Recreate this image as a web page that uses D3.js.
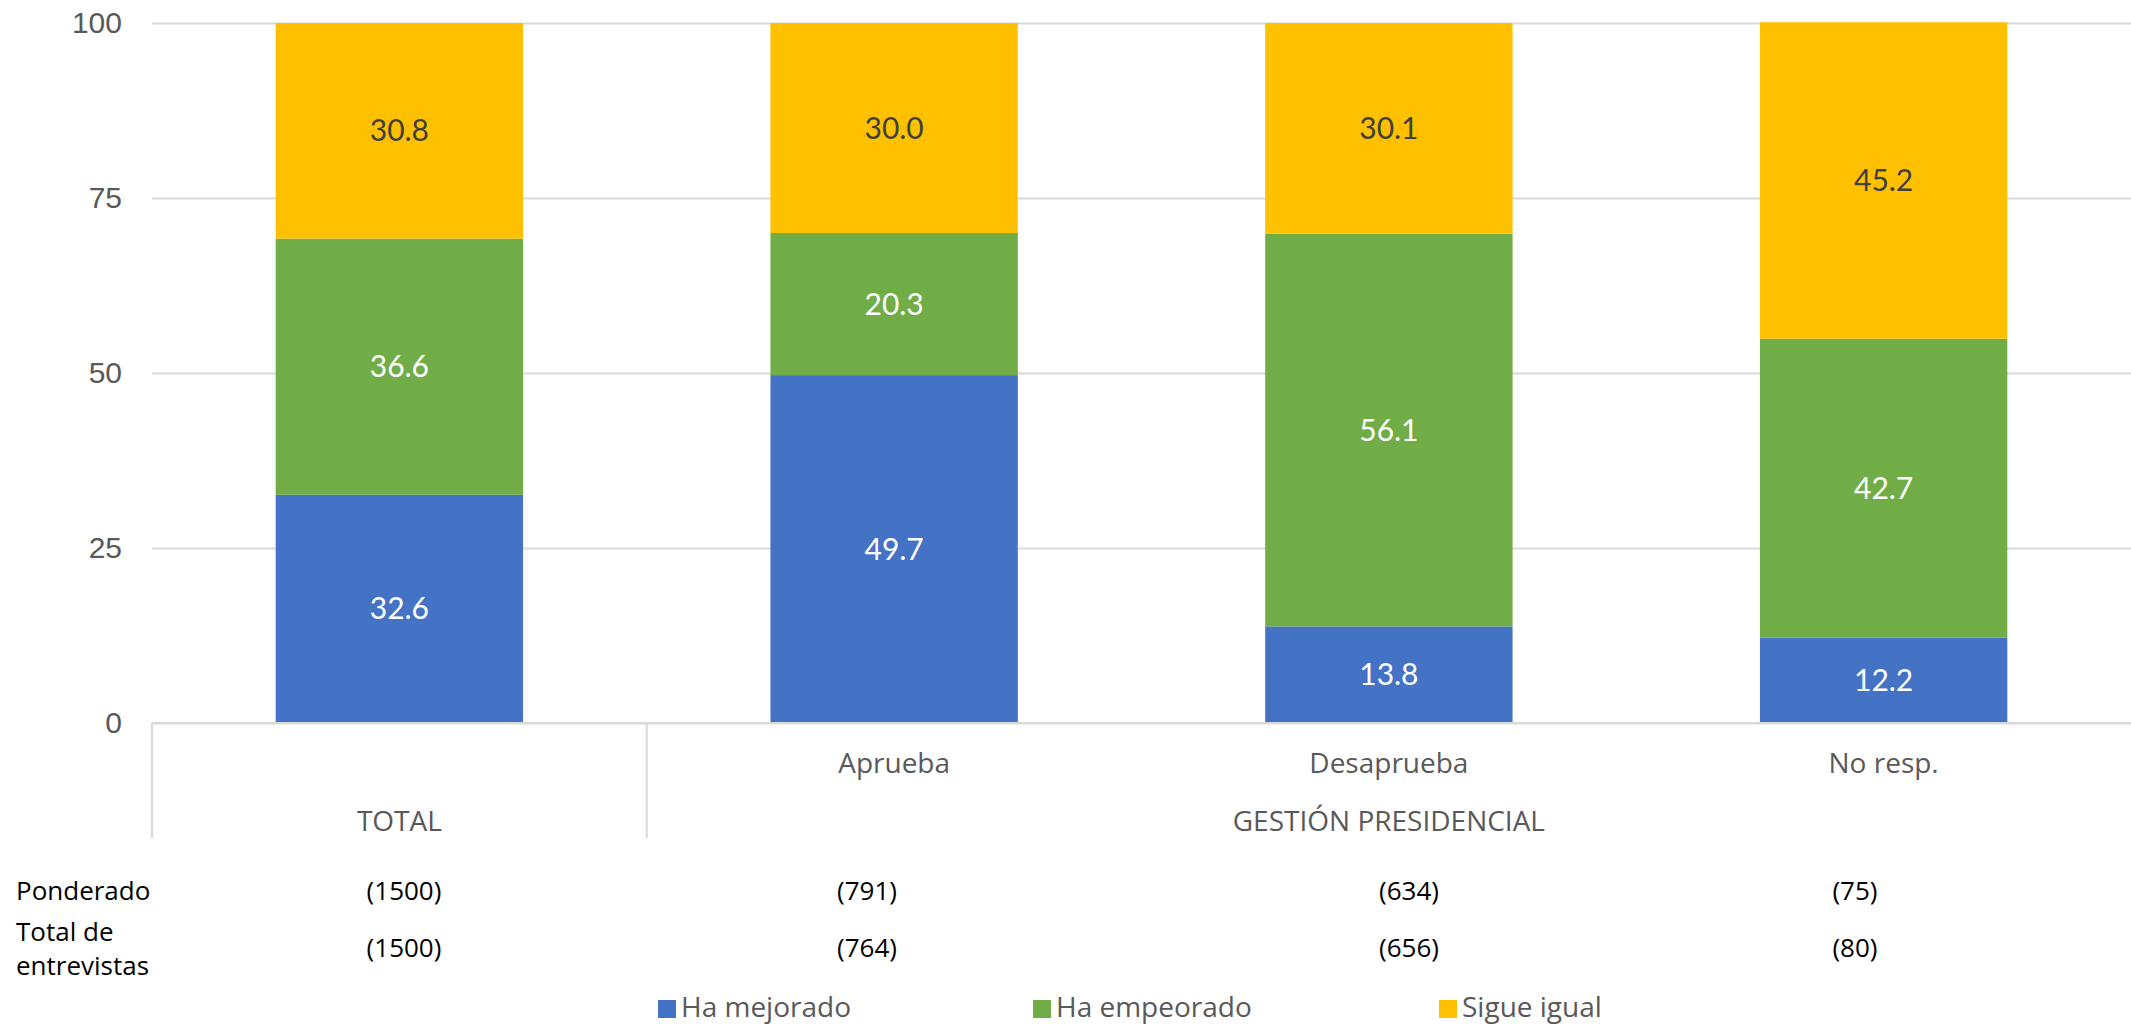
<!DOCTYPE html>
<html>
<head>
<meta charset="utf-8">
<script src="https://cdn.jsdelivr.net/npm/d3@7"></script>
<style>
  body { margin: 0; background: #fff; }
  svg { display: block; font-family: Lato, "Open Sans", sans-serif; }
  .txt { font-family: "Open Sans", Lato, sans-serif; }
</style>
</head>
<body>
<div id="chart"></div>
<script>
const categories = ["TOTAL", "Aprueba", "Desaprueba", "No resp."];
const groups = [
    { name: "TOTAL", items: ["TOTAL"] },
    { name: "GESTIÓN PRESIDENCIAL", items: ["Aprueba", "Desaprueba", "No resp."] }
];
const seriesNames = ["Ha mejorado", "Ha empeorado", "Sigue igual"];
const mejorado = [32.6, 49.7, 13.8, 12.2];
const empeorado = [36.6, 20.3, 56.1, 42.7];
const igual = [30.8, 30.0, 30.1, 45.2];
const ponderado = ["(1500)", "(791)", "(634)", "(75)"];
const entrevistas = ["(1500)", "(764)", "(656)", "(80)"];
const yTicks = [0, 25, 50, 75, 100];

const colors = ["#4472C4", "#70AD47", "#FFC000"];
const labelColors = ["#ffffff", "#ffffff", "#404040"];

const width = 2131, height = 1027;
const margin = { top: 23, right: 0, bottom: 304, left: 152 };
const plotW = width - margin.left - margin.right;
const plotH = height - margin.top - margin.bottom;

const svg = d3.select("#chart").append("svg")
    .attr("width", width)
    .attr("height", height);

const g = svg.append("g")
    .attr("transform", "translate(" + margin.left + "," + margin.top + ")");

const x = d3.scaleBand().domain(categories).range([0, plotW]).paddingInner(0.5).paddingOuter(0.25);
const y = d3.scaleLinear().domain([0, 100]).range([plotH, 0]);

// gridlines + y labels
const yAxis = d3.axisLeft(y).tickValues(yTicks).tickSize(-plotW).tickPadding(30);
const ya = g.append("g").call(yAxis);
ya.select(".domain").remove();
ya.selectAll(".tick line").attr("stroke", "#D9D9D9").attr("stroke-width", 2);
ya.selectAll(".tick text").attr("fill", "#595959").attr("font-size", 30);

// stacked bars
const rows = categories.map((c, i) => ({ cat: c, "Ha mejorado": mejorado[i], "Ha empeorado": empeorado[i], "Sigue igual": igual[i] }));
const stack = d3.stack().keys(seriesNames)(rows);

const layers = g.selectAll(".layer").data(stack).join("g")
    .attr("fill", (d, i) => colors[i]);

layers.selectAll("rect").data(d => d).join("rect")
    .attr("x", d => x(d.data.cat))
    .attr("y", d => y(d[1]))
    .attr("width", x.bandwidth())
    .attr("height", d => y(d[0]) - y(d[1]));

stack.forEach((layer, i) => {
    g.append("g").selectAll("text").data(layer).join("text")
        .attr("x", d => x(d.data.cat) + x.bandwidth() / 2)
        .attr("y", d => y((d[0] + d[1]) / 2))
        .attr("dy", "0.35em")
        .attr("text-anchor", "middle")
        .attr("fill", labelColors[i])
        .attr("font-size", 30)
        .text(d => (d[1] - d[0]).toFixed(1));
});

// baseline and multi-level category axis
g.append("line")
    .attr("x1", 0).attr("x2", plotW)
    .attr("y1", y(0)).attr("y2", y(0))
    .attr("stroke", "#D9D9D9").attr("stroke-width", 2);

const step = x.step();
const groupLineLen = 115;
let start = 0;
groups.forEach(gr => {
    const x0 = start * step;
    const x1 = (start + gr.items.length) * step;
    g.append("line")
        .attr("x1", x0).attr("x2", x0)
        .attr("y1", y(0)).attr("y2", y(0) + groupLineLen)
        .attr("stroke", "#D9D9D9").attr("stroke-width", 2);
    g.append("text")
        .attr("class", "txt")
        .attr("x", (x0 + x1) / 2)
        .attr("y", y(0) + 98)
        .attr("dy", "0.35em")
        .attr("text-anchor", "middle")
        .attr("fill", "#595959")
        .attr("font-size", 28)
        .text(gr.name);
    start += gr.items.length;
});

g.selectAll(".cat").data(categories.slice(1)).join("text")
    .attr("class", "txt")
    .attr("x", d => x(d) + x.bandwidth() / 2)
    .attr("y", y(0) + 40)
    .attr("dy", "0.35em")
    .attr("text-anchor", "middle")
    .attr("fill", "#595959")
    .attr("font-size", 28)
    .text(d => d);

// table of sample sizes
const tableColX = [404, 867, 1409, 1855];
const table = svg.append("g").attr("class", "txt").attr("font-size", 26).attr("fill", "#000");
table.append("text").attr("x", 16).attr("y", 891).attr("dy", "0.35em").text("Ponderado");
table.append("text").attr("x", 16).attr("y", 932).attr("dy", "0.35em").text("Total de");
table.append("text").attr("x", 16).attr("y", 966).attr("dy", "0.35em").text("entrevistas");
table.selectAll(".p").data(ponderado).join("text")
    .attr("x", (d, i) => tableColX[i]).attr("y", 891).attr("dy", "0.35em")
    .attr("text-anchor", "middle").text(d => d);
table.selectAll(".e").data(entrevistas).join("text")
    .attr("x", (d, i) => tableColX[i]).attr("y", 948).attr("dy", "0.35em")
    .attr("text-anchor", "middle").text(d => d);

// legend
const legendX = [658, 1033, 1439];
const legend = svg.append("g").attr("class", "txt");
seriesNames.forEach((s, i) => {
    legend.append("rect")
        .attr("x", legendX[i]).attr("y", 1000)
        .attr("width", 18).attr("height", 18)
        .attr("fill", colors[i]);
    legend.append("text")
        .attr("x", legendX[i] + 23).attr("y", 1007)
        .attr("dy", "0.35em")
        .attr("fill", "#595959")
        .attr("font-size", 28)
        .text(s);
});
</script>
</body>
</html>
